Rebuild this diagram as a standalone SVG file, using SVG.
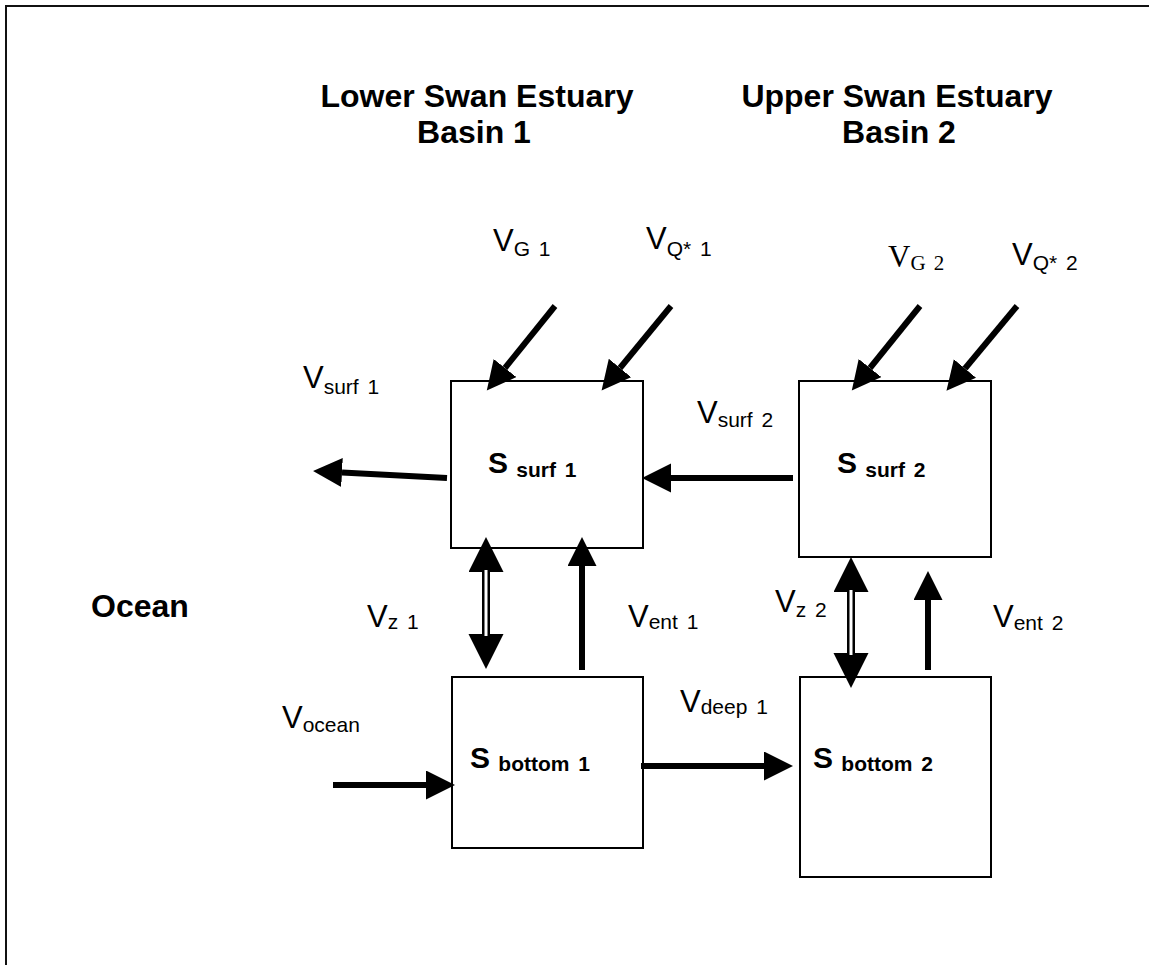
<svg xmlns="http://www.w3.org/2000/svg" width="1149" height="965" viewBox="0 0 1149 965">
  <style>
    .frame { fill: none; stroke: #111; stroke-width: 2; }
    .box { fill: #fff; stroke: #000; stroke-width: 2; }
    .title { font-family: "Liberation Sans", Arial, sans-serif; font-weight: bold; font-size: 32px; fill: #000; }
    .v { font-family: "Liberation Sans", Arial, sans-serif; font-size: 31px; fill: #000; }
    .vs { font-size: 21px; word-spacing: 3px; }
    .serif { font-family: "Liberation Serif", "Times New Roman", serif; }
    .s { font-family: "Liberation Sans", Arial, sans-serif; font-weight: bold; font-size: 30px; fill: #000; }
    .ss { font-size: 21px; word-spacing: 3px; }
    .flow { stroke: #000; stroke-width: 6; fill: none; marker-end: url(#head); }
    .mix { stroke: #000; stroke-width: 8; fill: none; marker-start: url(#bighead); marker-end: url(#bighead); }
    .mixcore { stroke: #fff; stroke-width: 3; fill: none; }
  </style>
  <defs>
    <marker id="head" markerUnits="userSpaceOnUse" markerWidth="31" markerHeight="31" refX="0" refY="14.5" orient="auto" viewBox="0 0 31 31">
      <path d="M0,0 L29,14.5 L0,29 Z" fill="#000"/>
    </marker>
    <marker id="bighead" markerUnits="userSpaceOnUse" markerWidth="36" markerHeight="36" refX="0" refY="17.5" orient="auto-start-reverse" viewBox="0 0 36 36">
      <path d="M0,0 L35,17.5 L0,35 Z" fill="#000"/>
    </marker>
  </defs>

  <rect width="1149" height="965" fill="#fff"/>
  <!-- outer frame: top and left edges only are visible -->
  <path class="frame" d="M6,970 L6,6 L1155,6"/>

  <!-- headings -->
  <g id="headings">
    <text class="title" x="477" y="107" text-anchor="middle">Lower Swan Estuary</text>
    <text class="title" x="474" y="143" text-anchor="middle">Basin 1</text>
    <text class="title" x="897" y="107" text-anchor="middle">Upper Swan Estuary</text>
    <text class="title" x="899" y="143" text-anchor="middle">Basin 2</text>
    <text class="title" x="91" y="617">Ocean</text>
  </g>

  <!-- compartments -->
  <g id="s-surf-1">
    <rect class="box" x="451" y="381" width="192" height="167"/>
    <text class="s" x="488" y="473">S <tspan class="ss" dy="4">surf 1</tspan></text>
  </g>
  <g id="s-surf-2">
    <rect class="box" x="799" y="381" width="192" height="176"/>
    <text class="s" x="837" y="473">S <tspan class="ss" dy="4">surf 2</tspan></text>
  </g>
  <g id="s-bottom-1">
    <rect class="box" x="452" y="677" width="191" height="171"/>
    <text class="s" x="470" y="768">S <tspan class="ss" dy="3">bottom 1</tspan></text>
  </g>
  <g id="s-bottom-2">
    <rect class="box" x="800" y="677" width="191" height="200"/>
    <text class="s" x="813" y="768">S <tspan class="ss" dy="3">bottom 2</tspan></text>
  </g>

  <!-- flows between compartments -->
  <g id="connectors">
    <line class="flow" x1="555" y1="306" x2="505" y2="368"/>
    <line class="flow" x1="671" y1="306" x2="620" y2="368"/>
    <line class="flow" x1="920" y1="306" x2="870" y2="368"/>
    <line class="flow" x1="1017" y1="306" x2="965" y2="368.5"/>
    <line class="flow" x1="447" y1="478" x2="342" y2="472.5"/>
    <line class="flow" x1="793" y1="478" x2="671" y2="478"/>
    <line class="flow" x1="582" y1="670" x2="582" y2="566"/>
    <line class="flow" x1="928" y1="670" x2="928" y2="600"/>
    <line class="flow" x1="641" y1="766" x2="764" y2="766"/>
    <line class="flow" x1="333" y1="785" x2="426" y2="785"/>
    <line class="mix" x1="486" y1="572" x2="486" y2="634"/>
    <line class="mixcore" x1="486" y1="570" x2="486" y2="636"/>
    <line class="mix" x1="851" y1="592" x2="851" y2="653"/>
    <line class="mixcore" x1="851" y1="590" x2="851" y2="655"/>
  </g>

  <!-- flow labels -->
  <g id="labels">
    <text class="v" x="493" y="251">V<tspan class="vs" dy="5">G 1</tspan></text>
    <text class="v" x="646" y="249">V<tspan class="vs" dy="7">Q* 1</tspan></text>
    <text class="v serif" x="888" y="267">V<tspan class="vs" dy="3">G 2</tspan></text>
    <text class="v" x="1012" y="265">V<tspan class="vs" dy="5">Q* 2</tspan></text>
    <text class="v" x="303" y="388">V<tspan class="vs" dy="6">surf 1</tspan></text>
    <text class="v" x="697" y="423">V<tspan class="vs" dy="4">surf 2</tspan></text>
    <text class="v" x="367" y="627">V<tspan class="vs" dy="2">z 1</tspan></text>
    <text class="v" x="628" y="627">V<tspan class="vs" dy="2">ent 1</tspan></text>
    <text class="v" x="775" y="612">V<tspan class="vs" dy="5">z 2</tspan></text>
    <text class="v" x="993" y="627">V<tspan class="vs" dy="3">ent 2</tspan></text>
    <text class="v" x="680" y="712">V<tspan class="vs" dy="2">deep 1</tspan></text>
    <text class="v" x="282" y="728">V<tspan class="vs" dy="4">ocean</tspan></text>
  </g>
</svg>
